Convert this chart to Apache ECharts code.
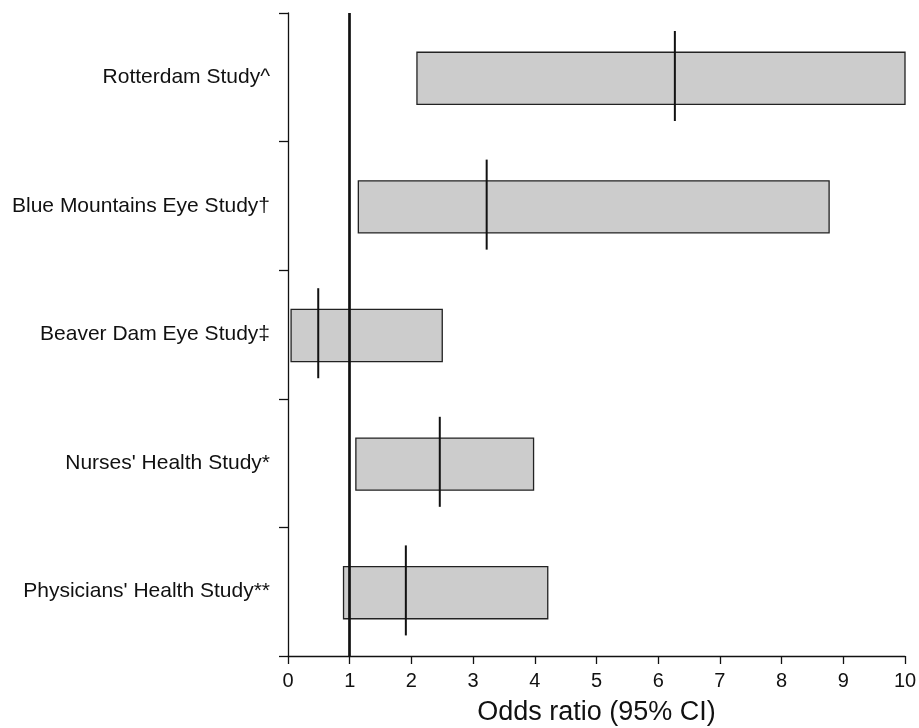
<!DOCTYPE html>
<html>
<head>
<meta charset="utf-8">
<script src="https://cdn.jsdelivr.net/npm/echarts@6/dist/echarts.min.js"></script>
<style>
html,body{margin:0;padding:0;background:#fff;}
#chart{width:919px;height:728px;}
</style>
</head>
<body>
<div id="chart"></div>
<script>
const studies = ["Physicians' Health Study**", "Nurses' Health Study*", "Beaver Dam Eye Study\u2021", "Blue Mountains Eye Study\u2020", "Rotterdam Study^"];
const lower = [0.90, 1.10, 0.05, 1.14, 2.09];
const upper = [4.21, 3.98, 2.50, 8.77, 10.0];
const oddsRatio = [1.91, 2.46, 0.49, 3.22, 6.27];
const xTicks = [0, 10, 1];
const refValue = 1;

const seriesData = studies.map((s, i) => [i, lower[i], upper[i], oddsRatio[i]]);

const chart = echarts.init(document.getElementById('chart'));
const FONT = "'Liberation Sans', Arial, sans-serif";

chart.setOption({
  animation: false,
  backgroundColor: '#fff',
  grid: { left: 288, right: 14, top: 13, bottom: 72, containLabel: false, outerBoundsMode: 'none' },
  xAxis: {
    type: 'value', min: xTicks[0], max: xTicks[1], interval: xTicks[2],
    splitLine: { show: false },
    axisLine: { show: true, lineStyle: { color: '#111', width: 1.3 } },
    axisTick: { show: true, length: 8, lineStyle: { color: '#111', width: 1.3 } },
    axisLabel: { fontSize: 20, color: '#111', margin: 15, fontFamily: FONT },
    name: 'Odds ratio (95% CI)', nameLocation: 'middle', nameGap: 43,
    nameTextStyle: { fontSize: 27, color: '#111', fontFamily: FONT }
  },
  yAxis: {
    type: 'category', data: studies,
    axisLine: { show: true, lineStyle: { color: '#111', width: 1.3 } },
    axisTick: { show: true, length: 9, lineStyle: { color: '#111', width: 1.3 } },
    axisLabel: { fontSize: 21, color: '#111', margin: 18, fontFamily: FONT }
  },
  series: [{
    type: 'custom',
    data: seriesData,
    encode: { x: [1, 2, 3], y: 0 },
    renderItem: function (params, api) {
      const yi = api.value(0);
      const lo = api.coord([api.value(1), yi]);
      const hi = api.coord([api.value(2), yi]);
      const pt = api.coord([api.value(3), yi]);
      const band = api.size([0, 1])[1];
      const bh = band * 0.405;
      return {
        type: 'group',
        children: [
          { type: 'rect', shape: { x: lo[0], y: lo[1] - bh / 2 + 1, width: hi[0] - lo[0], height: bh },
            style: { fill: '#cccccc', stroke: '#222', lineWidth: 1.3 } },
          { type: 'line', shape: { x1: pt[0], y1: pt[1] - band * 0.36, x2: pt[0], y2: pt[1] + band * 0.34 },
            style: { stroke: '#111', lineWidth: 2 } }
        ]
      };
    },
    markLine: {
      silent: true, symbol: ['none', 'none'],
      label: { show: false },
      lineStyle: { color: '#111', width: 2.7, type: 'solid' },
      data: [{ xAxis: refValue }]
    }
  }]
});
</script>
</body>
</html>
